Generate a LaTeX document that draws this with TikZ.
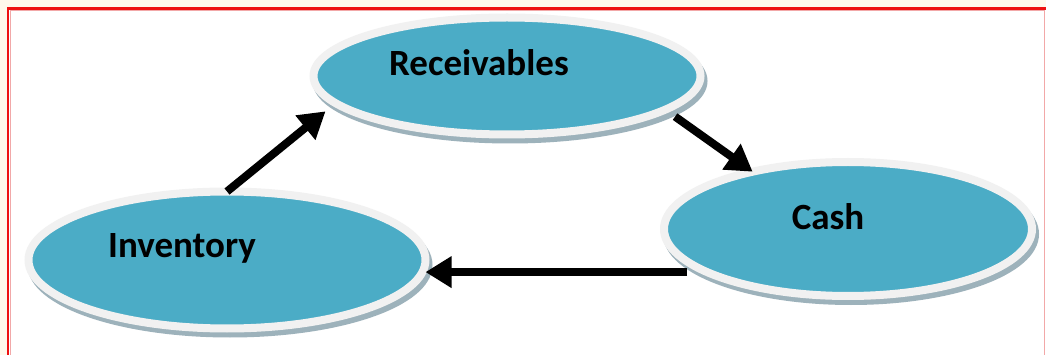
\documentclass[tikz,border=0pt]{standalone}
\usepackage{fontspec}
\setmainfont{Carlito}
\usetikzlibrary{shapes.geometric,arrows.meta}
\definecolor{cream}{HTML}{FFF9EC}
\definecolor{frame}{HTML}{EE1111}
\definecolor{framepink}{HTML}{F2A8A8}
\definecolor{ovalblue}{HTML}{4BACC6}
\definecolor{rim}{HTML}{F1F1F1}
\definecolor{shade}{HTML}{9DB2BB}
\tikzset{
  oval/.style={ellipse, fill=ovalblue, draw=rim, line width=8pt, inner sep=0pt, outer sep=0pt,
    preaction={draw=shade, fill=shade, line width=8pt, transform canvas={shift={(3pt,-5pt)}}}},
  ovaltext/.style={font=\bfseries\fontsize{37}{40}\selectfont, text=black},
  arr/.style={line width=8pt, draw=black, -{Triangle[width=30pt,length=26pt]}}
}
\begin{document}
\begin{tikzpicture}[x=1pt,y=-1pt]
\useasboundingbox (0,0) rectangle (1046,355);
\fill[cream] (0,0) rectangle (1046,355);
\fill[white] (7,8) rectangle (1046,355);
\draw[framepink, line width=1.5pt] (1044.5,8) -- (1044.5,355);
\draw[frame, line width=2.5pt] (8,355) -- (8,8.5) -- (1046,8.5);
\draw[framepink, line width=1pt] (10,355) -- (10,11) -- (1044,11);

\node[oval, minimum width=387, minimum height=117,
  label={[ovaltext, xshift=-28pt, yshift=13pt]center:Receivables}] (rec) at (507,76) {};
\node[oval, minimum width=368, minimum height=134,
  label={[ovaltext, xshift=-20pt, yshift=12pt]center:Cash}] (cash) at (848,229) {};
\node[oval, minimum width=397, minimum height=137,
  label={[ovaltext, xshift=-45pt, yshift=12pt]center:Inventory}] (inv) at (227,260) {};

\draw[arr, shorten >=13pt] (inv.north) -- (rec.189);
\draw[arr, shorten <=12pt] (rec.-12) -- (cash.149);
\draw[arr, shorten <=20pt] (cash.197) -- (cash.197 -| inv.east);
\end{tikzpicture}
\end{document}
